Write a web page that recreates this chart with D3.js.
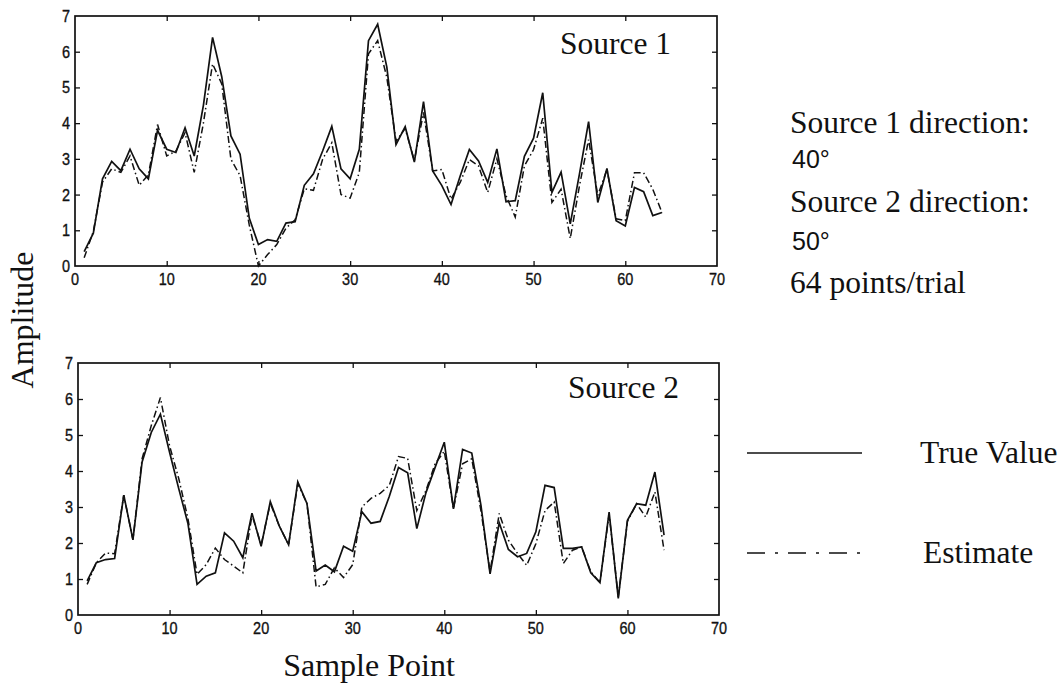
<!DOCTYPE html>
<html><head><meta charset="utf-8">
<script src="https://cdn.jsdelivr.net/npm/d3@7"></script>
<style>
body{margin:0;background:#fff;}
svg{display:block;}
.tick-label{font-family:"Liberation Sans",Arial,sans-serif;font-size:17px;fill:#111;stroke:#111;stroke-width:0.35px;}
.serif{font-family:"Liberation Serif","Times New Roman",serif;fill:#111;}
.sans{font-family:"Liberation Sans",Arial,sans-serif;fill:#111;}
</style></head>
<body>
<svg id="chart" width="1064" height="692"></svg>
<script>
const samplePoints = [1,2,3,4,5,6,7,8,9,10,11,12,13,14,15,16,17,18,19,20,21,22,23,24,25,26,27,28,29,30,31,32,33,34,35,36,37,38,39,40,41,42,43,44,45,46,47,48,49,50,51,52,53,54,55,56,57,58,59,60,61,62,63,64];

const source1True = [0.4,0.92,2.44,2.93,2.67,3.27,2.72,2.44,3.8,3.27,
  3.18,3.87,3.08,4.5,6.4,5.3,3.64,3.13,1.34,0.6,
  0.74,0.69,1.2,1.24,2.26,2.58,3.22,3.91,2.72,2.44,
  3.27,6.31,6.77,5.57,3.4,3.9,2.91,4.6,2.66,2.25,
  1.72,2.52,3.26,2.94,2.34,3.28,1.8,1.83,3.07,3.58,
  4.85,2.06,2.63,1.18,2.57,4.04,1.78,2.73,1.27,1.12,
  2.2,2.08,1.41,1.5];
const source1Est = [0.23,0.97,2.35,2.72,2.62,3.08,2.26,2.55,3.96,3.08,
  3.22,3.73,2.62,4.0,5.66,5.1,2.99,2.53,1.15,0.0,
  0.32,0.6,1.06,1.29,2.16,2.12,2.99,3.45,2.0,1.9,
  2.62,5.94,6.31,5.28,3.5,3.85,2.95,4.3,2.66,2.7,
  1.87,2.34,2.98,2.8,2.06,3.0,1.97,1.37,2.8,3.26,
  4.14,1.78,2.15,0.77,2.24,3.54,1.97,2.7,1.32,1.27,
  2.61,2.61,2.15,1.5];
const source2True = [0.95,1.45,1.54,1.57,3.33,2.09,4.25,5.07,5.58,4.52,
  3.51,2.55,0.85,1.08,1.17,2.28,2.05,1.59,2.83,1.91,
  3.15,2.46,1.95,3.7,3.1,1.22,1.39,1.2,1.91,1.77,
  2.87,2.55,2.6,3.3,4.1,3.95,2.4,3.4,4.1,4.8,
  2.95,4.6,4.5,3.05,1.14,2.56,1.82,1.62,1.71,2.31,
  3.6,3.54,1.85,1.85,1.89,1.17,0.9,2.86,0.46,2.63,
  3.09,3.05,3.97,2.22];
const source2Est = [0.85,1.45,1.72,1.7,3.33,2.09,4.34,5.26,6.04,4.7,
  3.79,2.69,1.13,1.4,1.86,1.54,1.36,1.17,2.78,1.95,
  3.1,2.46,1.95,3.65,3.1,0.78,0.85,1.31,1.04,1.4,
  3.0,3.24,3.38,3.6,4.4,4.35,2.9,3.46,4.2,4.55,
  2.95,4.2,4.34,2.9,1.2,2.82,2.08,1.71,1.38,1.98,
  2.9,3.14,1.43,1.8,1.89,1.2,0.9,2.8,0.5,2.6,
  3.09,2.72,3.42,1.8];

const xTicks = [0,10,20,30,40,50,60,70];
const yTicks = [0,1,2,3,4,5,6,7];
const panelTitles = ["Source 1","Source 2"];
const infoLines = ["Source 1 direction:","40°","Source 2 direction:","50°","64 points/trial"];
const legendLabels = ["True Value","Estimate"];

const svg = d3.select("#chart");

const panels = [
  {x0:75, x1:717, yTop:16, yBot:266, tru:source1True, est:source1Est, title:panelTitles[0], tx:560, ty:54},
  {x0:78, x1:719, yTop:363, yBot:615, tru:source2True, est:source2Est, title:panelTitles[1], tx:568, ty:398}
];

const estDash = "7,3,1.5,3";
const serifSize = 31.5;

panels.forEach(p => {
  const x = d3.scaleLinear().domain([0,70]).range([p.x0,p.x1]);
  const y = d3.scaleLinear().domain([0,7]).range([p.yBot,p.yTop]);
  const g = svg.append("g");
  const tl = 5;
  g.append("g").attr("transform",`translate(0,${p.yBot})`)
    .call(d3.axisTop(x).tickValues(xTicks.slice(1,-1)).tickSize(tl).tickFormat(""))
    .call(a=>a.select(".domain").remove());
  g.append("g").attr("transform",`translate(0,${p.yTop})`)
    .call(d3.axisBottom(x).tickValues(xTicks.slice(1,-1)).tickSize(tl).tickFormat(""))
    .call(a=>a.select(".domain").remove());
  g.append("g").attr("transform",`translate(${p.x0},0)`)
    .call(d3.axisRight(y).tickValues(yTicks.slice(1,-1)).tickSize(tl).tickFormat(""))
    .call(a=>a.select(".domain").remove());
  g.append("g").attr("transform",`translate(${p.x1},0)`)
    .call(d3.axisLeft(y).tickValues(yTicks.slice(1,-1)).tickSize(tl).tickFormat(""))
    .call(a=>a.select(".domain").remove());
  g.selectAll(".tick line").attr("stroke","#111").attr("stroke-width",1.3);
  g.append("rect").attr("x",p.x0).attr("y",p.yTop).attr("width",p.x1-p.x0).attr("height",p.yBot-p.yTop)
    .attr("fill","none").attr("stroke","#111").attr("stroke-width",1.7);
  g.selectAll(".xl").data(xTicks).enter().append("text").attr("class","tick-label")
    .attr("transform",d=>`translate(${x(d)},${p.yBot+19}) scale(0.85,1)`)
    .attr("text-anchor","middle").text(d=>d);
  g.selectAll(".yl").data(yTicks).enter().append("text").attr("class","tick-label")
    .attr("transform",d=>`translate(${p.x0-5},${y(d)+6}) scale(0.85,1)`)
    .attr("text-anchor","end").text(d=>d);
  const line = d3.line().x((d,i)=>x(samplePoints[i])).y(d=>y(d));
  g.append("path").datum(p.est).attr("d",line).attr("fill","none").attr("stroke","#111")
    .attr("stroke-width",1.5).attr("stroke-dasharray",estDash);
  g.append("path").datum(p.tru).attr("d",line).attr("fill","none").attr("stroke","#111")
    .attr("stroke-width",1.7);
  g.append("text").attr("class","serif").attr("x",p.tx).attr("y",p.ty).attr("font-size",serifSize).text(p.title);
});

svg.append("text").attr("class","serif").attr("font-size",32)
  .attr("transform","translate(33,320) rotate(-90)").attr("text-anchor","middle").text("Amplitude");
svg.append("text").attr("class","serif").attr("font-size",32)
  .attr("x",369).attr("y",676).attr("text-anchor","middle").text("Sample Point");

const infoY = [133,168,212,250,293];
const infoX = [790,792,790,792,790];
infoLines.forEach((t,i)=>{
  const isDeg = t.indexOf("°")>=0;
  svg.append("text").attr("class",isDeg?"sans":"serif").attr("font-size",isDeg?25:serifSize)
    .attr("x",infoX[i]).attr("y",infoY[i]).text(t);
});

const legY = [453,553];
const legDash = [null,"18,10,3,10"];
legendLabels.forEach((t,i)=>{
  const ln = svg.append("line").attr("x1",747).attr("x2",862).attr("y1",legY[i]).attr("y2",legY[i])
    .attr("stroke","#111").attr("stroke-width",1.7);
  if(legDash[i]) ln.attr("stroke-dasharray",legDash[i]);
  svg.append("text").attr("class","serif").attr("font-size",serifSize).attr("x",i===0?920:923).attr("y",legY[i]+10).text(t);
});
</script>
</body></html>
